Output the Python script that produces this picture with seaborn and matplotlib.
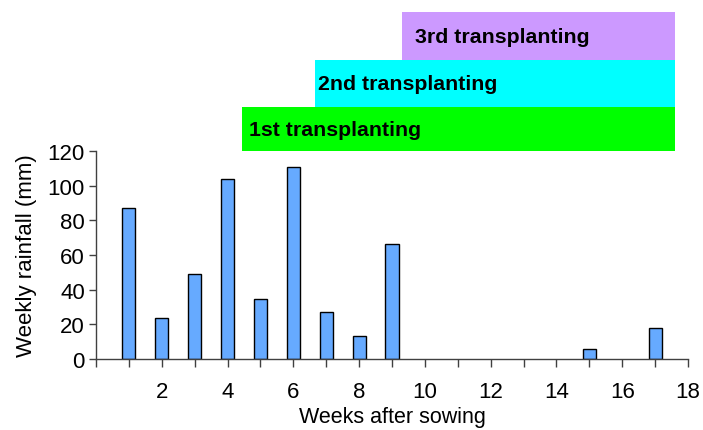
import numpy as np
import pandas as pd
import matplotlib
matplotlib.use('Agg')
import matplotlib.pyplot as plt
import seaborn as sns
from matplotlib.patches import Rectangle

# Weekly rainfall data
weeks = [1, 2, 3, 4, 5, 6, 7, 8, 9, 15, 17]
rainfall = [87, 23.5, 49, 104, 34.5, 111, 27, 13, 66.5, 6, 18]

# Transplanting periods (start week, end week, label, colour)
tp_start = [4.45, 6.65, 9.3]
tp_end = [17.6, 17.6, 17.6]
tp_labels = ['1st transplanting', '2nd transplanting', '3rd transplanting']
tp_colors = ['#00FF00', '#00FFFF', '#CC99FF']

sns.set_style('white')
plt.rcParams['font.family'] = ['Liberation Sans', 'DejaVu Sans']
plt.rcParams['text.color'] = 'black'
plt.rcParams['axes.labelcolor'] = 'black'
plt.rcParams['xtick.color'] = 'black'
plt.rcParams['ytick.color'] = 'black'

df = pd.DataFrame({'week': weeks, 'rain': rainfall})

fig = plt.figure(figsize=(7.03, 4.31), dpi=100)
ax = fig.add_axes([0.1366, 0.1647, 0.8421, 0.4826])

sns.barplot(data=df, x='week', y='rain', native_scale=True, width=0.4,
            color='#66AAFF', saturation=1, edgecolor='black', linewidth=1, ax=ax)

ax.set_xlim(0, 18)
ax.set_ylim(0, 120)
ax.set_xticks(range(0, 19))
ax.set_xticklabels(['' if (k == 0 or k % 2) else str(k) for k in range(0, 19)])
ax.set_yticks(range(0, 121, 20))
ax.tick_params(axis='x', direction='out', length=6, width=1, color='#404040',
               pad=10, labelsize=16, bottom=True)
ax.tick_params(axis='y', direction='out', length=5, width=1, color='#404040',
               pad=3, labelsize=16, left=True)
for s in ['top', 'right']:
    ax.spines[s].set_visible(False)
for s in ['left', 'bottom']:
    ax.spines[s].set_color('#404040')
    ax.spines[s].set_linewidth(1)

ax.set_xlabel('Weeks after sowing', fontsize=15.5, labelpad=3)
ax.set_ylabel('Weekly rainfall (mm)', fontsize=16, labelpad=8)

# Transplanting boxes above the plot
trans = matplotlib.transforms.blended_transform_factory(ax.transData, ax.transAxes)
y_bottoms = [1.0, 1.2115, 1.4375]
y_tops = [1.2115, 1.4375, 1.668]
label_offsets = [0.2, 0.1, 0.4]
for x0, x1, yb, yt, lab, c, off in zip(tp_start, tp_end, y_bottoms, y_tops,
                                       tp_labels, tp_colors, label_offsets):
    ax.add_patch(Rectangle((x0, yb), x1 - x0, yt - yb, transform=trans,
                           facecolor=c, edgecolor='none', clip_on=False, zorder=0))
    ax.text(x0 + off, (yb + yt) / 2, lab, transform=trans, fontsize=15.3,
            fontweight='bold', va='center', ha='left', color='black')

fig.savefig('out.png', dpi=100)
